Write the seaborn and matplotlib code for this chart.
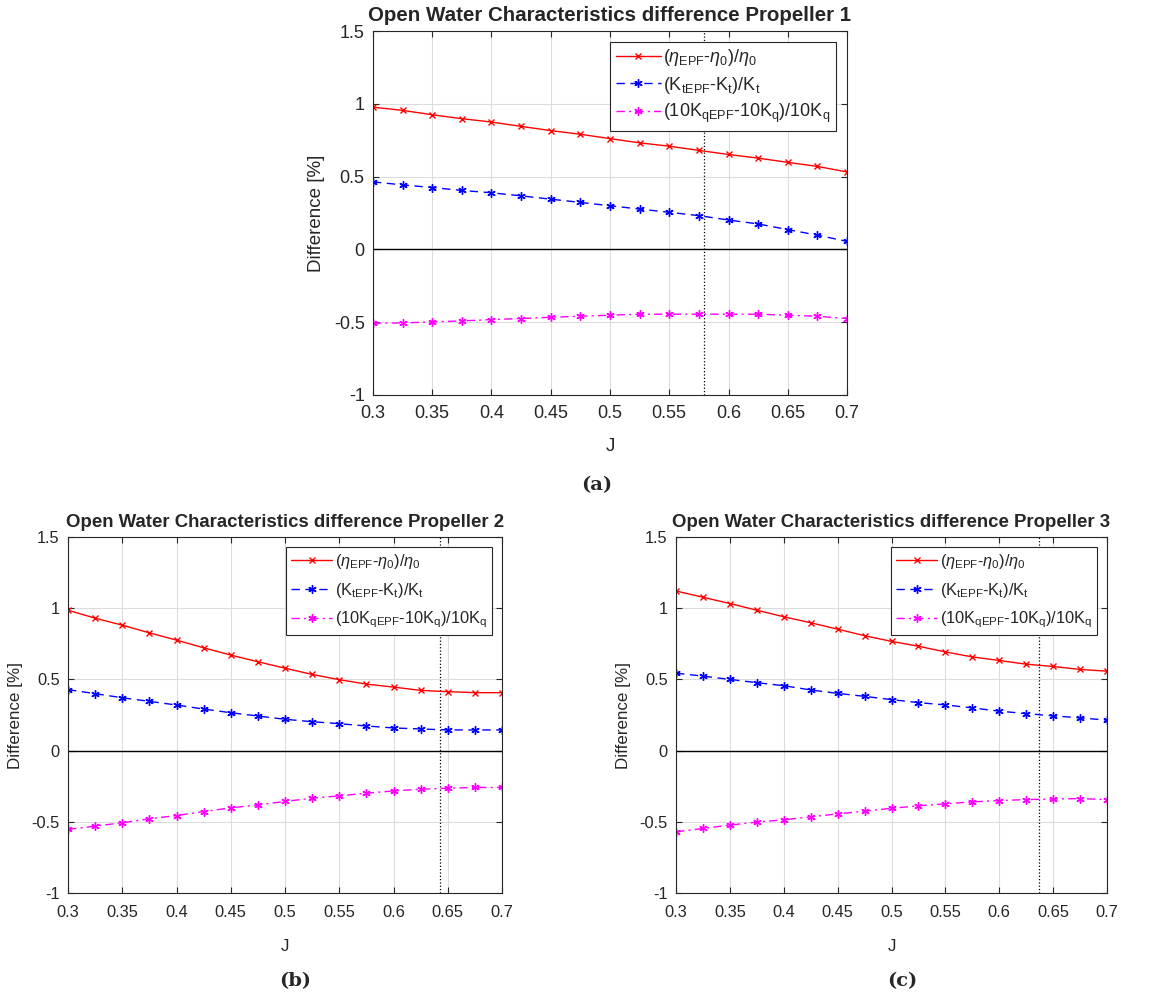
import numpy as np
import matplotlib
matplotlib.use("Agg")
import matplotlib.pyplot as plt
import seaborn as sns

# advance coefficient J
J = [0.3, 0.325, 0.35, 0.375, 0.4, 0.425, 0.45, 0.475, 0.5,
     0.525, 0.55, 0.575, 0.6, 0.625, 0.65, 0.675, 0.7]

# Propeller 1
eta_p1 = [0.977, 0.955, 0.925, 0.898, 0.875, 0.845, 0.816, 0.791, 0.761,
          0.732, 0.709, 0.680, 0.652, 0.627, 0.598, 0.570, 0.532]
kt_p1 = [0.464, 0.443, 0.425, 0.405, 0.389, 0.368, 0.345, 0.323, 0.300,
         0.277, 0.255, 0.232, 0.202, 0.175, 0.136, 0.098, 0.055]
kq_p1 = [-0.507, -0.505, -0.498, -0.491, -0.482, -0.475, -0.466, -0.459, -0.452,
         -0.445, -0.445, -0.445, -0.445, -0.445, -0.452, -0.459, -0.475]
jdesign_p1 = 0.579

# Propeller 2
eta_p2 = [0.986, 0.930, 0.881, 0.827, 0.776, 0.722, 0.671, 0.624, 0.579,
          0.535, 0.498, 0.467, 0.446, 0.423, 0.414, 0.407, 0.407]
kt_p2 = [0.428, 0.400, 0.371, 0.346, 0.320, 0.292, 0.266, 0.243, 0.220,
         0.203, 0.189, 0.173, 0.159, 0.152, 0.145, 0.145, 0.145]
kq_p2 = [-0.554, -0.530, -0.507, -0.479, -0.456, -0.428, -0.402, -0.381, -0.357,
         -0.334, -0.318, -0.299, -0.283, -0.271, -0.264, -0.259, -0.259]
jdesign_p2 = 0.643

# Propeller 3
eta_p3 = [1.121, 1.077, 1.033, 0.986, 0.940, 0.898, 0.853, 0.807, 0.767,
          0.733, 0.693, 0.658, 0.633, 0.607, 0.591, 0.570, 0.558]
kt_p3 = [0.544, 0.523, 0.500, 0.477, 0.456, 0.426, 0.402, 0.381, 0.358,
         0.337, 0.321, 0.300, 0.277, 0.260, 0.244, 0.230, 0.214]
kq_p3 = [-0.570, -0.547, -0.523, -0.502, -0.486, -0.465, -0.444, -0.426, -0.405,
         -0.388, -0.374, -0.360, -0.351, -0.344, -0.340, -0.337, -0.344]
jdesign_p3 = 0.637

labels = [r"($\eta_{\mathrm{EPF}}$-$\eta_0$)/$\eta_0$",
          r"(K$_{\mathrm{tEPF}}$-K$_{\mathrm{t}}$)/K$_{\mathrm{t}}$",
          r"(10K$_{\mathrm{qEPF}}$-10K$_{\mathrm{q}}$)/10K$_{\mathrm{q}}$"]
xticks = [0.3, 0.35, 0.4, 0.45, 0.5, 0.55, 0.6, 0.65, 0.7]
xticklabels = ["0.3", "0.35", "0.4", "0.45", "0.5", "0.55", "0.6", "0.65", "0.7"]
yticks = [-1, -0.5, 0, 0.5, 1, 1.5]
yticklabels = ["-1", "-0.5", "0", "0.5", "1", "1.5"]

sns.set_style("ticks")
plt.rcParams["font.family"] = ["Liberation Sans", "DejaVu Sans"]
plt.rcParams["mathtext.fontset"] = "custom"
plt.rcParams["mathtext.rm"] = "Liberation Sans"
plt.rcParams["mathtext.it"] = "Liberation Sans:italic"
plt.rcParams["xtick.direction"] = "in"
plt.rcParams["ytick.direction"] = "in"

fig = plt.figure(figsize=(11.63, 10.01), dpi=100)
ax_a = fig.add_axes([0.3207, 0.6054, 0.4076, 0.3636])
ax_b = fig.add_axes([0.0585, 0.1079, 0.3732, 0.3556])
ax_c = fig.add_axes([0.5813, 0.1079, 0.3706, 0.3556])

asterisk = (6, 2, 0)
dark = "#262626"


def draw(ax, eta, kt, kq, jd, num, s=1.0, xpad=7, jpad=12, lspace=0.35):
    # s scales the fonts: the two lower panels are printed a bit smaller
    ax.axhline(0, color="black", lw=1.0, zorder=1)
    ax.axvline(jd, color="black", lw=0.9, ls=":", zorder=1)
    sns.lineplot(x=J, y=eta, ax=ax, color="red", lw=1.0, marker="x",
                 markersize=5, markeredgewidth=1.0, markeredgecolor="red",
                 label=labels[0])
    sns.lineplot(x=J, y=kt, ax=ax, color="blue", lw=1.0, linestyle=(0, (6, 4)),
                 marker=asterisk, markersize=6, markeredgewidth=1.0,
                 markeredgecolor="blue", label=labels[1])
    sns.lineplot(x=J, y=kq, ax=ax, color="magenta", lw=1.0,
                 linestyle=(0, (6, 3, 1.5, 3)), marker=asterisk, markersize=6,
                 markeredgewidth=1.0, markeredgecolor="magenta", label=labels[2])
    ax.set_xlim(0.3, 0.7)
    ax.set_ylim(-1, 1.5)
    ax.set_xticks(xticks)
    ax.set_xticklabels(xticklabels)
    ax.set_yticks(yticks)
    ax.set_yticklabels(yticklabels)
    ax.grid(True, color="#dcdcdc", lw=0.8)
    ax.set_axisbelow(True)
    ax.tick_params(labelsize=13 * s, colors=dark, top=True, right=True,
                   length=4, width=0.8)
    ax.tick_params(axis="x", pad=xpad)
    ax.tick_params(axis="y", pad=6)
    for sp in ax.spines.values():
        sp.set_color(dark)
        sp.set_linewidth(0.8)
    ax.set_xlabel("J", fontsize=13.5 * s, color=dark, labelpad=jpad)
    ax.set_ylabel("Difference [%]", fontsize=13.5 * s, color=dark, labelpad=6)
    ax.set_title(f"Open Water Characteristics difference Propeller {num}",
                 fontsize=14.75 * s, fontweight="bold", pad=7)
    leg = ax.legend(loc="upper right", fontsize=13 * s, frameon=True,
                    fancybox=False, edgecolor=dark, framealpha=1,
                    handlelength=2.5, handletextpad=0.15, labelspacing=lspace,
                    borderpad=0.3, borderaxespad=0.6)
    leg.get_frame().set_linewidth(0.8)


draw(ax_a, eta_p1, kt_p1, kq_p1, jdesign_p1, 1)
draw(ax_b, eta_p2, kt_p2, kq_p2, jdesign_p2, 2, s=0.91, xpad=9, jpad=13, lspace=0.6)
draw(ax_c, eta_p3, kt_p3, kq_p3, jdesign_p3, 3, s=0.91, xpad=9, jpad=13, lspace=0.6)

for txt, x, y in [("(a)", 0.5133, 0.5155), ("(b)", 0.2537, 0.020), ("(c)", 0.7756, 0.020)]:
    fig.text(x, y, txt, ha="center", va="center", fontsize=14,
             fontweight="bold", family=["DejaVu Serif"])

fig.savefig("out.png", dpi=100)
